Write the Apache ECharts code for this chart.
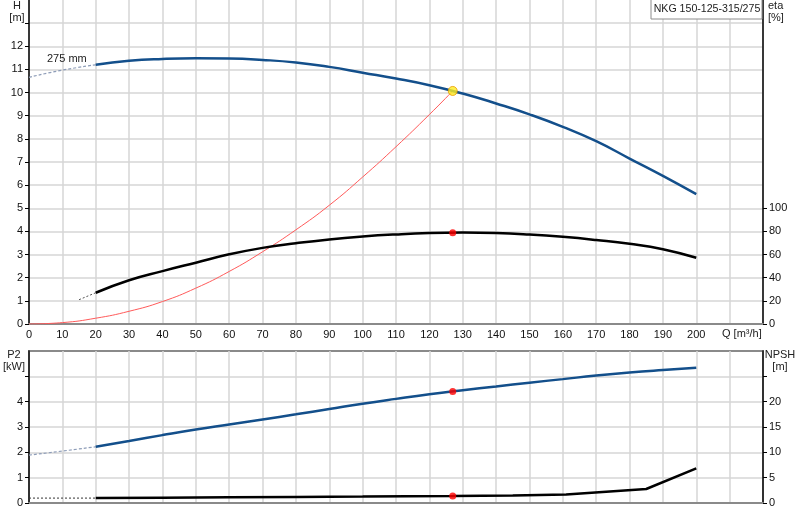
<!DOCTYPE html>
<html>
<head>
<meta charset="utf-8">
<script src="https://cdn.jsdelivr.net/npm/echarts@6/dist/echarts.min.js"></script>
<style>
  html, body { margin: 0; padding: 0; background: #fff; }
  #chart { width: 800px; height: 520px; }
</style>
</head>
<body>
<div id="chart"></div>
<script type="text/javascript">
// Q-H curve (275 mm impeller)
var qHeadDash = [0, 10, 20];
var headDash = [10.66, 10.97, 11.2];
var qHead = [20, 30, 40, 50, 60, 70, 80, 90, 100, 110, 120, 130, 140, 150, 160, 170, 180, 190, 200];
var head = [11.2, 11.37, 11.45, 11.48, 11.47, 11.41, 11.3, 11.11, 10.86, 10.61, 10.32, 9.96, 9.53, 9.06, 8.52, 7.9, 7.15, 6.4, 5.61];

// system curve (red)
var qSys = [0, 10, 20, 30, 40, 50, 60, 70, 80, 90, 100, 110, 120, 127];
var sysHead = [0, 0.06, 0.25, 0.55, 0.97, 1.55, 2.27, 3.12, 4.07, 5.13, 6.35, 7.66, 9.05, 10.07];

// efficiency eta [%]
var qEtaDash = [15, 20];
var etaDash = [21, 27];
var qEta = [20, 30, 40, 50, 60, 70, 80, 90, 100, 110, 120, 130, 140, 150, 160, 170, 180, 190, 200];
var eta = [27, 37.8, 45.7, 53, 60.2, 65.8, 69.8, 73.1, 75.6, 77.4, 78.6, 79, 78.6, 77.3, 75.3, 72.6, 69.3, 64.6, 57.2];

// shaft power P2 [kW]
var qP2Dash = [0, 10, 20];
var p2Dash = [1.89, 2.05, 2.22];
var qP2 = [20, 30, 40, 50, 60, 70, 80, 90, 100, 110, 120, 130, 140, 150, 160, 170, 180, 190, 200];
var p2 = [2.22, 2.45, 2.68, 2.9, 3.1, 3.3, 3.5, 3.71, 3.92, 4.11, 4.29, 4.45, 4.6, 4.75, 4.89, 5.03, 5.15, 5.25, 5.34];

// NPSH [m]
var qNpshDash = [0, 20];
var npshDash = [0.97, 0.97];
var qNpsh = [20, 40, 60, 80, 100, 127, 145, 161, 185, 200];
var npsh = [0.97, 1.05, 1.13, 1.2, 1.27, 1.38, 1.5, 1.7, 2.76, 6.84];

// duty point
var dutyQ = 127;
var dutyHead = 10.07;
var dutyEta = 78.9;
var dutyP2 = 4.4;
var dutyNpsh = 1.38;

// axis tick labels
var qLabels = [0, 10, 20, 30, 40, 50, 60, 70, 80, 90, 100, 110, 120, 130, 140, 150, 160, 170, 180, 190, 200];
var hTicks = [0, 1, 2, 3, 4, 5, 6, 7, 8, 9, 10, 11, 12, 13];
var hLabels = [0, 1, 2, 3, 4, 5, 6, 7, 8, 9, 10, 11, 12];
var etaLabels = [0, 20, 40, 60, 80, 100];
var p2Ticks = [0, 1, 2, 3, 4, 5];
var p2Labels = [0, 1, 2, 3, 4];
var npshTicks = [0, 5, 10, 15, 20, 25];
var npshLabels = [0, 5, 10, 15, 20];

function zip(xs, ys) {
  var out = [];
  for (var i = 0; i < xs.length; i++) out.push([xs[i], ys[i]]);
  return out;
}

var FONT = '"Liberation Sans", Arial, sans-serif';
var BLUE = '#134f8b';
var GRIDC = '#d6d6d6';

function xAx(idx, showLabel) {
  return {
    type: 'value', gridIndex: idx, min: 0, max: 220, interval: 10,
    axisLine: { show: true, onZero: false, lineStyle: { color: '#8a8a8a', width: 2 } },
    axisTick: { show: false },
    axisLabel: {
      show: showLabel, margin: 5, color: '#111', fontSize: 11, fontFamily: FONT,
      customValues: qLabels
    },
    splitLine: { show: true, lineStyle: { color: GRIDC, width: 1.5 } }
  };
}

function yAx(idx, pos, max, interval, ticks, labels, split) {
  return {
    type: 'value', gridIndex: idx, position: pos, min: 0, max: max, interval: interval,
    axisLine: { show: true, onZero: false, lineStyle: { color: '#000', width: 1.5 } },
    axisTick: { show: true, length: 4, customValues: ticks, lineStyle: { color: '#000' } },
    axisLabel: { margin: 6, color: '#111', fontSize: 11, fontFamily: FONT, customValues: labels },
    splitLine: { show: split, lineStyle: { color: GRIDC, width: 1.5 } }
  };
}

function txt(text, x, y, align, size) {
  return {
    type: 'text', x: x, y: y, z: 100,
    style: { text: text, fill: '#222', font: (size || 11) + 'px ' + FONT, align: align || 'center', verticalAlign: 'middle', lineHeight: 12 }
  };
}

var chart = echarts.init(document.getElementById('chart'));
var option = {
  animation: false,
  backgroundColor: '#fff',
  grid: [
    { left: 29, top: 0, width: 734, height: 324 },
    { left: 29, top: 351, width: 734, height: 152, show: true, borderColor: '#8a8a8a', borderWidth: 2, backgroundColor: 'transparent' }
  ],
  xAxis: [xAx(0, true), xAx(1, false)],
  yAxis: [
    yAx(0, 'left', 14, 1, hTicks, hLabels, true),
    yAx(0, 'right', 280, 20, etaLabels, etaLabels, false),
    yAx(1, 'left', 6, 1, p2Ticks, p2Labels, true),
    yAx(1, 'right', 30, 5, npshTicks, npshLabels, false)
  ],
  graphic: [
    txt('H\n[m]', 17, 12),
    txt('eta\n[%]', 768, 12, 'left'),
    txt('Q [m³/h]', 722, 334, 'left'),
    txt('275 mm', 47, 59, 'left'),
    txt('P2\n[kW]', 14, 361),
    txt('NPSH\n[m]', 780, 361),
    {
      type: 'rect', z: 99,
      shape: { x: 651, y: -1, width: 111, height: 20 },
      style: { fill: '#fff', stroke: '#8c8c8c', lineWidth: 1 }
    },
    txt('NKG 150-125-315/275', 707, 9, 'center', 10.6)
  ],
  series: [
    { type: 'line', xAxisIndex: 0, yAxisIndex: 0, data: zip(qSys, sysHead), smooth: 0.5, showSymbol: false, z: 2,
      lineStyle: { color: '#ff5a5a', width: 1 } },
    { type: 'line', xAxisIndex: 0, yAxisIndex: 0, data: zip(qHeadDash, headDash), smooth: 0.5, showSymbol: false, z: 3,
      lineStyle: { color: '#8e9db8', width: 1.2, type: [3, 2] } },
    { type: 'line', xAxisIndex: 0, yAxisIndex: 0, data: zip(qHead, head), smooth: 0.5, showSymbol: false, z: 3,
      lineStyle: { color: BLUE, width: 2.5 } },
    { type: 'line', xAxisIndex: 0, yAxisIndex: 1, data: zip(qEtaDash, etaDash), showSymbol: false, z: 3,
      lineStyle: { color: '#555', width: 1, type: [2, 2] } },
    { type: 'line', xAxisIndex: 0, yAxisIndex: 1, data: zip(qEta, eta), smooth: 0.5, showSymbol: false, z: 3,
      lineStyle: { color: '#000', width: 2.5 } },
    { type: 'scatter', xAxisIndex: 0, yAxisIndex: 0, data: [[dutyQ, dutyHead]], symbolSize: 9, z: 10,
      itemStyle: { color: '#ffee22', borderColor: '#e89a00', borderWidth: 1 } },
    { type: 'scatter', xAxisIndex: 0, yAxisIndex: 1, data: [[dutyQ, dutyEta]], symbolSize: 7, z: 10,
      itemStyle: { color: '#ff0000' } },
    { type: 'line', xAxisIndex: 1, yAxisIndex: 2, data: zip(qP2Dash, p2Dash), smooth: 0.5, showSymbol: false, z: 3,
      lineStyle: { color: '#8e9db8', width: 1.2, type: [3, 2] } },
    { type: 'line', xAxisIndex: 1, yAxisIndex: 2, data: zip(qP2, p2), smooth: 0.5, showSymbol: false, z: 3,
      lineStyle: { color: BLUE, width: 2.5 } },
    { type: 'line', xAxisIndex: 1, yAxisIndex: 3, data: zip(qNpshDash, npshDash), showSymbol: false, z: 3,
      lineStyle: { color: '#333', width: 1, type: [2, 2] } },
    { type: 'line', xAxisIndex: 1, yAxisIndex: 3, data: zip(qNpsh, npsh), showSymbol: false, z: 3,
      lineStyle: { color: '#000', width: 2.5 } },
    { type: 'scatter', xAxisIndex: 1, yAxisIndex: 2, data: [[dutyQ, dutyP2]], symbolSize: 7, z: 10,
      itemStyle: { color: '#ff0000' } },
    { type: 'scatter', xAxisIndex: 1, yAxisIndex: 3, data: [[dutyQ, dutyNpsh]], symbolSize: 7, z: 10,
      itemStyle: { color: '#ff0000' } }
  ]
};
chart.setOption(option);
</script>
</body>
</html>
